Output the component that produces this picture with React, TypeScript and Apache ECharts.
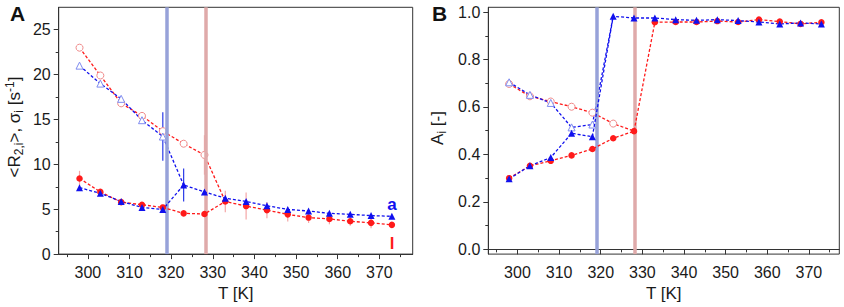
import React, { useEffect, useRef } from 'react';
import * as echarts from 'echarts';

// ---------- data ----------
const temps = [298, 303, 308, 313, 318, 323, 328, 333, 338, 343, 348, 353, 358, 363, 368, 373];
const xMajor = [300, 310, 320, 330, 340, 350, 360, 370];
const xMinor = [295, 305, 315, 325, 335, 345, 355, 365, 375];
const aYMajor = [0, 5, 10, 15, 20, 25];
const aYMinor = [2.5, 7.5, 12.5, 17.5, 22.5];
const bYMajor = [0, 0.2, 0.4, 0.6, 0.8, 1.0];
const bYMinor = [0.1, 0.3, 0.5, 0.7, 0.9];
const transitionBlue = 319;
const transitionRed = 328.2;

// Panel A: <R2,i>, sigma_i
const aRedFilled = [8.43, 6.93, 5.79, 5.5, 5.2, 4.54, 4.47, 5.86, 5.35, 4.9, 4.43, 4.07, 3.92, 3.66, 3.48, 3.26];
const aRedFilledErr = [0.85, 0.3, 0.2, 0.2, 0.2, 0.15, 0.15, 1.2, 1.5, 0.9, 0.8, 0.6, 0.6, 0.5, 0.6, 0.3];
const aBlueFilled = [7.4, 6.78, 5.86, 5.2, 4.98, 7.7, 6.93, 6.23, 5.86, 5.39, 4.98, 4.8, 4.54, 4.43, 4.29, 4.21];
const aBlueFilledErr = [0, 0, 0, 0, 0, 1.85, 0, 0, 0, 0, 0, 0, 0, 0, 0, 0];
const aRedOpen = [23.0, 19.9, 16.8, 15.4, 13.7, 12.3, 11.05];
const aRedOpenErr = [0, 0, 0, 0, 0, 0, 2.2];
const aBlueOpen = [21.0, 19.0, 17.3, 14.92, 13.1];
const aBlueOpenErr = [0, 0, 0, 0, 2.7];

// Panel B: A_i
const bRedFilled = [0.3, 0.352, 0.373, 0.396, 0.423, 0.468, 0.498, 0.957, 0.958, 0.958, 0.962, 0.958, 0.968, 0.96, 0.95, 0.957];
const bBlueFilled = [0.297, 0.352, 0.387, 0.489, 0.475, 0.982, 0.975, 0.975, 0.968, 0.965, 0.968, 0.964, 0.958, 0.95, 0.954, 0.95];
const bRedOpen = [0.697, 0.645, 0.623, 0.601, 0.576, 0.53];
const bBlueOpen = [0.704, 0.651, 0.617, 0.514, 0.526];

// ---------- styles ----------
const FONT = "'Liberation Sans', Arial, Helvetica, sans-serif";
const AXIS = '#333333';
const TEXT = '#1a1a1a';
const RED = '#ff1a1a';
const BLUE = '#1010ee';
const RED_OPEN = '#f08a8a';
const BLUE_OPEN = '#7f8cf0';
const RED_ERR = '#f4a6a6';
const BLUE_ERR = '#2a3ae8';

function filledSeries(name: string, idx: number, vals: number[], color: string, symbol: string, size: number) {
  return {
    name, type: 'line', xAxisIndex: idx, yAxisIndex: idx, z: 5,
    data: vals.map((v, i) => [temps[i], v]),
    symbol, symbolSize: size,
    itemStyle: { color },
    lineStyle: { color, width: 1.3, type: [3, 2] },
  };
}

function openSeries(name: string, idx: number, vals: number[], join: number[], color: string, lineColor: string, symbol: string, size: number) {
  const n = vals.length;
  const data: any[] = vals.map((v, i) => [temps[i], v]);
  data.push({ value: [temps[n], join[n]], symbol: 'none' });
  return {
    name, type: 'line', xAxisIndex: idx, yAxisIndex: idx, z: 4,
    data,
    symbol, symbolSize: size, showSymbol: true,
    itemStyle: { color: '#ffffff', borderColor: color, borderWidth: 1 },
    lineStyle: { color: lineColor, width: 1.3, type: [3, 2] },
  };
}

function errorSeries(idx: number, vals: number[], errs: number[], color: string) {
  const data = vals.map((v, i) => [temps[i], v, errs[i]]).filter((d) => d[2] > 0);
  return {
    type: 'custom', xAxisIndex: idx, yAxisIndex: idx, z: 3,
    encode: { x: 0, y: 1 },
    data,
    renderItem: (_p: any, api: any) => {
      const x = api.value(0), y = api.value(1), e = api.value(2);
      const p1 = api.coord([x, y - e]);
      const p2 = api.coord([x, y + e]);
      return { type: 'line', shape: { x1: p1[0], y1: p1[1], x2: p2[0], y2: p2[1] }, style: { stroke: color, lineWidth: 1.2 } };
    },
  };
}

function bandSeries(idx: number, x: number, color: string) {
  return {
    type: 'line', xAxisIndex: idx, yAxisIndex: idx, z: 1, data: [],
    markLine: {
      silent: true, symbol: ['none', 'none'], label: { show: false },
      lineStyle: { color, width: 3.5, type: 'solid' },
      data: [{ xAxis: x }],
    },
  };
}

function xAxes(idx: number, max: number) {
  const common = { type: 'value', gridIndex: idx, min: 293, max, position: 'bottom', splitLine: { show: false } };
  return [
    {
      ...common,
      axisLine: { show: true, lineStyle: { color: AXIS, width: 1 } },
      axisTick: { show: true, inside: false, length: 5, customValues: xMajor, lineStyle: { color: AXIS } },
      axisLabel: { show: true, customValues: xMajor, fontSize: 16, color: TEXT, fontFamily: FONT, margin: 10 },
      name: 'T [K]', nameLocation: 'middle', nameGap: 29,
      nameTextStyle: { fontSize: 17, color: TEXT, fontFamily: FONT },
    },
    {
      ...common,
      axisLine: { show: false },
      axisTick: { show: true, inside: false, length: 3, customValues: xMinor, lineStyle: { color: AXIS } },
      axisLabel: { show: false },
    },
  ];
}

function yAxes(idx: number, min: number, max: number, major: number[], minor: number[], fmt: (v: number) => string) {
  const common = { type: 'value', gridIndex: idx, min, max, position: 'left', splitLine: { show: false } };
  return [
    {
      ...common,
      axisLine: { show: true, lineStyle: { color: AXIS, width: 1 } },
      axisTick: { show: true, inside: false, length: 5, customValues: major, lineStyle: { color: AXIS } },
      axisLabel: { show: true, customValues: major, fontSize: 16, color: TEXT, fontFamily: FONT, margin: 8, formatter: fmt },
    },
    {
      ...common,
      axisLine: { show: false },
      axisTick: { show: true, inside: false, length: 3, customValues: minor, lineStyle: { color: AXIS } },
      axisLabel: { show: false },
    },
  ];
}

export default function App() {
  const ref = useRef<HTMLDivElement>(null);
  useEffect(() => {
    if (!ref.current) return;
    const chart = echarts.init(ref.current, undefined, { renderer: 'svg' });
    const xa = [...xAxes(0, 378), ...xAxes(1, 377.3)];
    const ya = [
      ...yAxes(0, 0, 27.5, aYMajor, aYMinor, (v) => String(v)),
      ...yAxes(1, -0.02, 1.02, bYMajor, bYMinor, (v) => v.toFixed(1)),
    ];
    const option: any = {
      animation: false,
      backgroundColor: '#ffffff',
      grid: [
        { left: 58.7, top: 7.3, width: 354, height: 250, show: true, borderColor: AXIS, borderWidth: 1, backgroundColor: 'transparent' },
        { left: 488.3, top: 7.3, width: 351, height: 250, show: true, borderColor: AXIS, borderWidth: 1, backgroundColor: 'transparent' },
      ],
      xAxis: xa,
      yAxis: ya,
      series: [
        // Panel A (axis index 0)
        bandSeries(0, transitionBlue, '#97a2d9'),
        bandSeries(0, transitionRed, '#dfaaaa'),
        errorSeries(0, aRedFilled, aRedFilledErr, RED_ERR),
        errorSeries(0, aBlueFilled, aBlueFilledErr, BLUE_ERR),
        errorSeries(0, aRedOpen, aRedOpenErr, RED_ERR),
        errorSeries(0, aBlueOpen, aBlueOpenErr, BLUE_ERR),
        openSeries('A red open', 0, aRedOpen, aRedFilled, RED_OPEN, RED, 'circle', 7),
        openSeries('A blue open', 0, aBlueOpen, aBlueFilled, BLUE_OPEN, BLUE, 'triangle', 7),
        filledSeries('A red', 0, aRedFilled, RED, 'circle', 6.5),
        filledSeries('A blue', 0, aBlueFilled, BLUE, 'triangle', 7),
        // Panel B (axis index 2)
        bandSeries(2, transitionBlue, '#97a2d9'),
        bandSeries(2, transitionRed, '#dfaaaa'),
        openSeries('B red open', 2, bRedOpen, bRedFilled, RED_OPEN, RED, 'circle', 7),
        openSeries('B blue open', 2, bBlueOpen, bBlueFilled, BLUE_OPEN, BLUE, 'triangle', 7),
        filledSeries('B red', 2, bRedFilled, RED, 'circle', 6.5),
        filledSeries('B blue', 2, bBlueFilled, BLUE, 'triangle', 7),
      ],
      graphic: [
        { type: 'text', left: 10, top: 3, style: { text: 'A', font: `bold 21px ${FONT}`, fill: '#111' } },
        { type: 'text', left: 432, top: 3, style: { text: 'B', font: `bold 21px ${FONT}`, fill: '#111' } },
        {
          type: 'text', x: 14, y: 127, rotation: Math.PI / 2,
          style: {
            text: '{m|<R}{sub|2,i}{m|>, σ}{sub|i}{m| [s}{sup|-1}{m|]}',
            align: 'center', verticalAlign: 'middle', fill: TEXT,
            rich: {
              m: { fontSize: 17, fontFamily: FONT, fill: TEXT },
              sub: { fontSize: 12, fontFamily: FONT, fill: TEXT, padding: [10, 0, 0, 0] },
              sup: { fontSize: 12, fontFamily: FONT, fill: TEXT, padding: [0, 0, 9, 0] },
            },
          },
        },
        {
          type: 'text', x: 437, y: 128, rotation: Math.PI / 2,
          style: {
            text: '{m|A}{sub|i}{m| [-]}',
            align: 'center', verticalAlign: 'middle', fill: TEXT,
            rich: {
              m: { fontSize: 17, fontFamily: FONT, fill: TEXT },
              sub: { fontSize: 12, fontFamily: FONT, fill: TEXT, padding: [10, 0, 0, 0] },
            },
          },
        },
        { type: 'text', x: 392, y: 204, style: { text: 'a', font: `bold 17px ${FONT}`, fill: BLUE, align: 'center', verticalAlign: 'middle' } },
        { type: 'text', x: 392, y: 243, style: { text: 'l', font: `bold 17px ${FONT}`, fill: RED, align: 'center', verticalAlign: 'middle' } },
      ],
    };
    chart.setOption(option);
    return () => chart.dispose();
  }, []);
  return <div ref={ref} style={{ position: 'absolute', left: 0, top: 0, width: 844, height: 307 }} />;
}
